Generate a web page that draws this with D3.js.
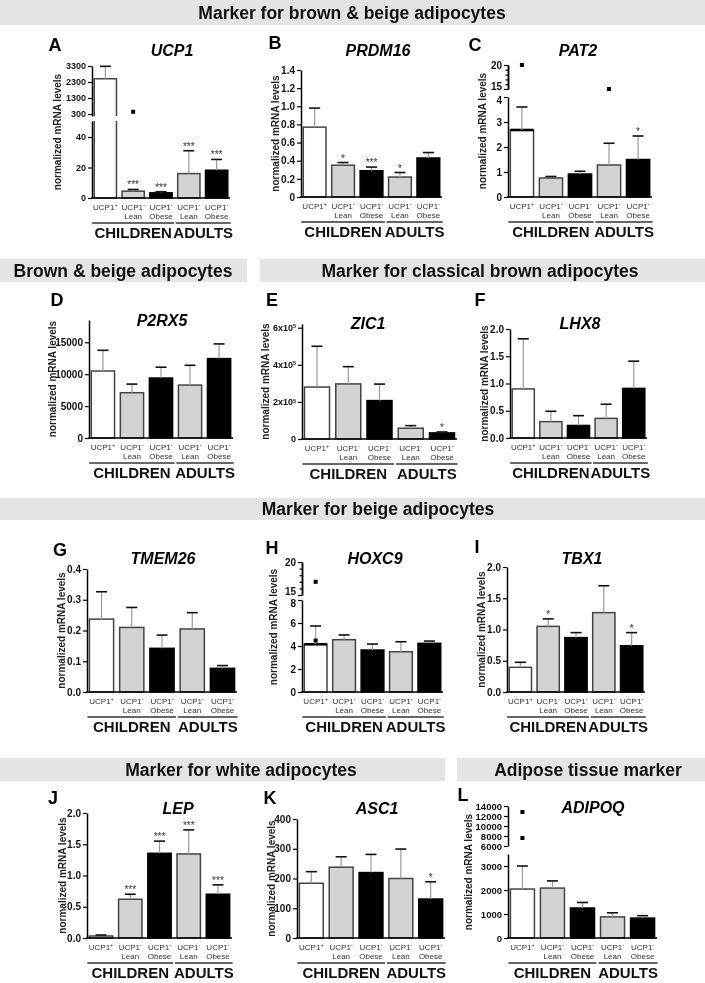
<!DOCTYPE html>
<html><head><meta charset="utf-8">
<script src="https://cdn.jsdelivr.net/npm/d3@7"></script>
<style>
body{margin:0;background:#fff}
svg{display:block;will-change:transform}
text{font-family:"Liberation Sans",Arial,Helvetica,sans-serif}
</style>
</head><body>
<svg id="c" width="705" height="983"></svg>
<script>
// ---------- DATA ----------
const groups = ["CHILDREN", "ADULTS"];
const barMain = ["UCP1", "UCP1", "UCP1", "UCP1", "UCP1"];
const barSup = ["+", "-", "-", "-", "-"];
const barSub = ["", "Lean", "Obese", "Lean", "Obese"];
const sectionTitles = ["Marker for brown & beige adipocytes", "Brown & beige adipocytes",
  "Marker for classical brown adipocytes", "Marker for beige adipocytes",
  "Marker for white adipocytes", "Adipose tissue marker"];
const panelLetters = ["A","B","C","D","E","F","G","H","I","J","K","L"];
const geneNames = ["UCP1","PRDM16","PAT2","P2RX5","ZIC1","LHX8","TMEM26","HOXC9","TBX1","LEP","ASC1","ADIPOQ"];

// means and upper end of error bars
const ucp1Mean = [2500, 4.5, 3.4, 16, 18.2];
const ucp1Top  = [3280, 5.6, 4.1, 31, 25.3];
const ucp1Sig  = ["", "***", "***", "***", "***"];
const ucp1Out  = [[1, 440]];
const ucp1Ticks = [0, 20, 40];
const ucp1TicksHi = [300, 1300, 2300, 3300];

const prdm16Mean = [0.77, 0.35, 0.29, 0.22, 0.43];
const prdm16Top  = [0.98, 0.38, 0.33, 0.27, 0.49];
const prdm16Sig  = ["", "*", "***", "*", ""];
const prdm16Ticks = [0, 0.2, 0.4, 0.6, 0.8, 1.0, 1.2, 1.4];

const pat2Mean = [2.68, 0.76, 0.92, 1.28, 1.5];
const pat2Top  = [3.6, 0.82, 1.03, 2.15, 2.44];
const pat2Sig  = ["", "", "", "", "*"];
const pat2Out  = [[0, 20], [3, 15]];
const pat2Ticks = [0, 1, 2, 3, 4];
const pat2TicksHi = [15, 20];

const p2rx5Mean = [10500, 7100, 9400, 8300, 12450];
const p2rx5Top  = [13750, 8450, 11100, 11400, 14750];
const p2rx5Sig  = ["", "", "", "", ""];
const p2rx5Ticks = [0, 5000, 10000, 15000];

const zic1Mean = [2.8e5, 2.97e5, 2.07e5, 0.58e5, 0.33e5];
const zic1Top  = [5.0e5, 3.9e5, 2.96e5, 0.72e5, 0.38e5];
const zic1Sig  = ["", "", "", "", "*"];
const zic1Ticks = [0, 2e5, 4e5, 6e5];

const lhx8Mean = [0.9, 0.3, 0.23, 0.36, 0.91];
const lhx8Top  = [1.82, 0.49, 0.41, 0.62, 1.41];
const lhx8Sig  = ["", "", "", "", ""];
const lhx8Ticks = [0, 0.5, 1.0, 1.5, 2.0];

const tmem26Mean = [0.237, 0.21, 0.142, 0.205, 0.077];
const tmem26Top  = [0.326, 0.275, 0.185, 0.258, 0.086];
const tmem26Sig  = ["", "", "", "", ""];
const tmem26Ticks = [0, 0.1, 0.2, 0.3, 0.4];

const hoxc9Mean = [4.15, 4.55, 3.65, 3.5, 4.23];
const hoxc9Top  = [5.74, 4.96, 4.17, 4.37, 4.43];
const hoxc9Sig  = ["", "", "", "", ""];
const hoxc9Out  = [[0, 17], [0, 8.1]];
const hoxc9Ticks = [0, 2, 4, 6, 8];
const hoxc9TicksHi = [15, 20];

const tbx1Mean = [0.395, 1.05, 0.87, 1.27, 0.74];
const tbx1Top  = [0.475, 1.17, 0.95, 1.70, 0.95];
const tbx1Sig  = ["", "*", "", "", "*"];
const tbx1Ticks = [0, 0.5, 1.0, 1.5, 2.0];

const lepMean = [0.032, 0.62, 1.355, 1.345, 0.70];
const lepTop  = [0.048, 0.70, 1.55, 1.73, 0.85];
const lepSig  = ["", "***", "***", "***", "***"];
const lepTicks = [0, 0.5, 1.0, 1.5, 2.0];

const asc1Mean = [184, 238, 220, 200, 131];
const asc1Top  = [223, 273, 281, 299, 189];
const asc1Sig  = ["", "", "", "", "*"];
const asc1Ticks = [0, 100, 200, 300, 400];

const adipoqMean = [2040, 2080, 1250, 880, 830];
const adipoqTop  = [3000, 2380, 1480, 1050, 930];
const adipoqSig  = ["", "", "", "", ""];
const adipoqOut  = [[0, 12800], [0, 7600]];
const adipoqTicks = [0, 1000, 2000, 3000];
const adipoqTicksHi = [6000, 8000, 10000, 12000, 14000];

// ---------- PANEL DEFINITIONS (data + format) ----------
const f1 = d3.format(".1f");
const fInt = d => d3.format("d")(d);
const fB = d => d === 0 ? "0" : f1(d);
const panels = [
  {mean: ucp1Mean, top: ucp1Top, sig: ucp1Sig, out: ucp1Out, ticks: ucp1Ticks, ticksHi: ucp1TicksHi, fmt: fInt},
  {mean: prdm16Mean, top: prdm16Top, sig: prdm16Sig, out: [], ticks: prdm16Ticks, fmt: fB},
  {mean: pat2Mean, top: pat2Top, sig: pat2Sig, out: pat2Out, ticks: pat2Ticks, ticksHi: pat2TicksHi, fmt: fInt},
  {mean: p2rx5Mean, top: p2rx5Top, sig: p2rx5Sig, out: [], ticks: p2rx5Ticks, fmt: fInt},
  {mean: zic1Mean, top: zic1Top, sig: zic1Sig, out: [], ticks: zic1Ticks, fmt: "sci"},
  {mean: lhx8Mean, top: lhx8Top, sig: lhx8Sig, out: [], ticks: lhx8Ticks, fmt: f1},
  {mean: tmem26Mean, top: tmem26Top, sig: tmem26Sig, out: [], ticks: tmem26Ticks, fmt: f1},
  {mean: hoxc9Mean, top: hoxc9Top, sig: hoxc9Sig, out: hoxc9Out, ticks: hoxc9Ticks, ticksHi: hoxc9TicksHi, fmt: fInt},
  {mean: tbx1Mean, top: tbx1Top, sig: tbx1Sig, out: [], ticks: tbx1Ticks, fmt: f1},
  {mean: lepMean, top: lepTop, sig: lepSig, out: [], ticks: lepTicks, fmt: f1},
  {mean: asc1Mean, top: asc1Top, sig: asc1Sig, out: [], ticks: asc1Ticks, fmt: fInt},
  {mean: adipoqMean, top: adipoqTop, sig: adipoqSig, out: adipoqOut, ticks: adipoqTicks, ticksHi: adipoqTicksHi, fmt: fInt}
];

// ---------- LAYOUT ----------
const bands = [
  {x0: 0, x1: 705, y0: 0, y1: 25, tx: 352},
  {x0: 0, x1: 247, y0: 259, y1: 282, tx: 123},
  {x0: 260, x1: 705, y0: 259, y1: 282, tx: 480},
  {x0: 0, x1: 705, y0: 498, y1: 520, tx: 378},
  {x0: 0, x1: 445, y0: 758, y1: 781, tx: 241},
  {x0: 457, x1: 705, y0: 758, y1: 781, tx: 588}
];
const layout = [
  {lx:55, ly:45, tx:172, ty:50, ylx:57, ax:92, xe:230, low:[0,50.5,198,121], high:[175,3300,116,66], tf:9},
  {lx:275, ly:43, tx:378, ty:50, ylx:275, ax:301, xe:442, low:[0,1.4,197,70]},
  {lx:475, ly:45, tx:578, ty:50, ylx:482, ax:508, xe:652, low:[0,4,197,97], high:[15,20,89,65], minor:true, thick:0, split:3},
  {lx:57, ly:300, tx:162, ty:320, ylx:52, ax:89, xe:233, low:[0,18500,438,320]},
  {lx:272, ly:300, tx:368, ty:323, ylx:265, ax:302, xe:457, low:[0,6.2e5,439,324], tf:9},
  {lx:480, ly:300, tx:580, ty:323, ylx:484, ax:510, xe:647, low:[0,2,438,329]},
  {lx:60, ly:550, tx:163, ty:558, ylx:61, ax:87, xe:237, low:[0,0.4,692,569]},
  {lx:272, ly:548, tx:375, ty:558, ylx:273, ax:302, xe:443, low:[0,8,692,600], high:[15,20,595,562], minor:true, thick:0, split:3.5},
  {lx:477, ly:547, tx:582, ty:558, ylx:481, ax:507, xe:645, low:[0,2,692,567]},
  {lx:53, ly:798, tx:178, ty:808, ylx:62, ax:87, xe:232, low:[0,2,938,813]},
  {lx:270, ly:798, tx:377, ty:808, ylx:271, ax:297, xe:445, low:[0,400,938,819]},
  {lx:463, ly:795, tx:593, ty:807, ylx:468, ax:508, xe:657, low:[0,3500,938,854], high:[6000,14000,846,806], tf:9.5}
];
const fills = ["#ffffff", "#d3d3d3", "#000000", "#d3d3d3", "#000000"];
const strokes = ["#444", "#444", "#000", "#444", "#000"];

// ---------- DRAW ----------
const svg = d3.select("#c");
svg.append("rect").attr("width", 705).attr("height", 983).attr("fill", "#fff");

bands.forEach((b, i) => {
  svg.append("rect").attr("x", b.x0).attr("y", b.y0).attr("width", b.x1 - b.x0)
    .attr("height", b.y1 - b.y0).attr("fill", "#e4e4e4");
  svg.append("text").attr("x", b.tx).attr("y", (b.y0 + b.y1) / 2)
    .attr("text-anchor", "middle").attr("dominant-baseline", "central")
    .attr("font-size", 17.5).attr("font-weight", "bold").attr("fill", "#111")
    .text(sectionTitles[i]);
});

function styleAxis(sel, fs) {
  sel.select(".domain").attr("stroke", "#000").attr("stroke-width", 1.5);
  sel.selectAll(".tick line").attr("stroke", "#000").attr("stroke-width", 1.2);
  sel.selectAll(".tick text").attr("font-size", fs).attr("font-weight", "bold")
    .attr("font-family", '"Liberation Sans",Arial,sans-serif').attr("fill", "#111");
  sel.attr("font-family", null).attr("font-size", null);
}

function sciLabel(sel) {
  sel.each(function(d) {
    const t = d3.select(this);
    if (d === 0) { t.text("0"); return; }
    const m = d / 1e5;
    t.text(null);
    t.append("tspan").text(m + "x10");
    t.append("tspan").attr("font-size", 5.5).attr("dy", "-0.5em").text("5");
  });
}

panels.forEach((p, k) => {
  const L = layout[k];
  const g = svg.append("g");
  const fs = L.tf || 10;
  const x = d3.scaleBand().domain(d3.range(5)).range([L.ax, L.xe])
    .paddingInner(0.2).paddingOuter(0.08);
  const bw = x.bandwidth();
  const low = d3.scaleLinear().domain([L.low[0], L.low[1]]).range([L.low[2], L.low[3]]);
  const high = L.high ? d3.scaleLinear().domain([L.high[0], L.high[1]]).range([L.high[2], L.high[3]]) : null;
  const lowMax = L.low[1];
  const y = v => (high && v > lowMax) ? high(v) : low(v);
  const y0 = L.low[2];
  const yTopAll = high ? L.high[3] : L.low[3];

  // letter + title
  g.append("text").attr("x", L.lx).attr("y", L.ly).attr("text-anchor", "middle")
    .attr("dominant-baseline", "central").attr("font-size", 18).attr("font-weight", "bold")
    .text(panelLetters[k]);
  g.append("text").attr("x", L.tx).attr("y", L.ty).attr("text-anchor", "middle")
    .attr("dominant-baseline", "central").attr("font-size", 16).attr("font-weight", "bold")
    .attr("font-style", "italic").text(geneNames[k]);

  // y label
  g.append("text").attr("transform", `translate(${L.ylx},${(y0 + yTopAll) / 2}) rotate(-90)`)
    .attr("text-anchor", "middle").attr("dominant-baseline", "central")
    .attr("font-size", 10).attr("font-weight", "bold").attr("fill", "#222")
    .text("normalized mRNA levels");

  // bars
  p.mean.forEach((m, i) => {
    const bx = x(i);
    if (high && m > lowMax) {
      const lt = L.low[3], hb = L.high[2];
      g.append("rect").attr("x", bx).attr("y", lt).attr("width", bw).attr("height", y0 - lt).attr("fill", fills[i]);
      g.append("rect").attr("x", bx).attr("y", high(m)).attr("width", bw).attr("height", hb - high(m)).attr("fill", fills[i]);
      g.append("path").attr("d", `M${bx},${lt}V${y0}H${bx + bw}V${lt}M${bx},${hb}V${high(m)}H${bx + bw}V${hb}`)
        .attr("fill", "none").attr("stroke", strokes[i]).attr("stroke-width", 1.5);
    } else {
      g.append("rect").attr("x", bx).attr("y", y(m)).attr("width", bw).attr("height", y0 - y(m))
        .attr("fill", fills[i]).attr("stroke", strokes[i]).attr("stroke-width", 1.5);
    }
    if (L.thick === i) {
      g.append("line").attr("x1", bx).attr("x2", bx + bw).attr("y1", y(m)).attr("y2", y(m))
        .attr("stroke", "#000").attr("stroke-width", 2.6);
    }
    // error bar
    const cx = bx + bw / 2, tv = p.top[i];
    if (high && tv > lowMax && m <= lowMax) {
      g.append("line").attr("x1", cx).attr("x2", cx).attr("y1", y(m)).attr("y2", L.low[3]).attr("stroke", "#9a9a9a").attr("stroke-width", 1.2);
      g.append("line").attr("x1", cx).attr("x2", cx).attr("y1", L.high[2]).attr("y2", high(tv)).attr("stroke", "#9a9a9a").attr("stroke-width", 1.2);
    } else {
      g.append("line").attr("x1", cx).attr("x2", cx).attr("y1", y(m)).attr("y2", y(tv))
        .attr("stroke", "#9a9a9a").attr("stroke-width", 1.2);
    }
    g.append("line").attr("x1", cx - 5.5).attr("x2", cx + 5.5).attr("y1", y(tv)).attr("y2", y(tv))
      .attr("stroke", "#111").attr("stroke-width", 1.6);
    if (p.sig[i]) {
      g.append("text").attr("x", cx).attr("y", y(tv) - 1).attr("text-anchor", "middle")
        .attr("font-size", 10).attr("fill", "#333").text(p.sig[i]);
    }
  });

  // outliers
  p.out.forEach(o => {
    const cx = x(o[0]) + bw / 2;
    g.append("rect").attr("x", cx - 2).attr("y", y(o[1]) - 2).attr("width", 4).attr("height", 4).attr("fill", "#000");
  });

  // y axes
  const axLow = d3.axisLeft(low).tickValues(p.ticks).tickSize(4).tickSizeOuter(0).tickPadding(2);
  if (p.fmt !== "sci") axLow.tickFormat(p.fmt);
  const gl = g.append("g").attr("transform", `translate(${L.ax},0)`).call(axLow);
  styleAxis(gl, fs);
  if (p.fmt === "sci") gl.selectAll(".tick text").call(sciLabel);
  if (high) {
    if (L.minor) {
      const minorVals = d3.range(L.high[0], L.high[1] + 1).filter(v => !p.ticksHi.includes(v));
      const axMin = d3.axisLeft(high).tickValues(minorVals).tickSize(2.5).tickSizeOuter(0).tickFormat("");
      const gm = g.append("g").attr("transform", `translate(${L.ax},0)`).call(axMin);
      styleAxis(gm, fs);
    }
    const axHi = d3.axisLeft(high).tickValues(p.ticksHi).tickSize(4).tickSizeOuter(0).tickPadding(2).tickFormat(p.fmt);
    const gh = g.append("g").attr("transform", `translate(${L.ax},0)`).call(axHi);
    styleAxis(gh, fs);
    if (L.split) {
      // separate the two labels that meet at the axis break
      gh.selectAll(".tick text").filter(d => d === p.ticksHi[0]).attr("y", -L.split);
      gl.selectAll(".tick text").filter(d => d === p.ticks[p.ticks.length - 1]).attr("y", L.split);
    }
  }

  // x axis
  g.append("line").attr("x1", L.ax - 0.75).attr("x2", L.xe).attr("y1", y0).attr("y2", y0)
    .attr("stroke", "#000").attr("stroke-width", 1.5);

  // bar labels
  d3.range(5).forEach(i => {
    const cx = x(i) + bw / 2;
    const t = g.append("text").attr("x", cx).attr("y", y0 + 11.5).attr("text-anchor", "middle")
      .attr("font-size", 8).attr("fill", "#333");
    t.append("tspan").text(barMain[i]);
    t.append("tspan").attr("font-size", 5.5).attr("dy", -3).text(barSup[i]);
    if (barSub[i]) {
      g.append("text").attr("x", cx).attr("y", y0 + 21).attr("text-anchor", "middle")
        .attr("font-size", 8).attr("fill", "#333").text(barSub[i]);
    }
  });

  // group lines
  const gx = [[x(0) - 2, x(2) + bw + 2], [x(3) - 2, x(4) + bw + 3]];
  gx.forEach((r, j) => {
    g.append("line").attr("x1", r[0]).attr("x2", r[1]).attr("y1", y0 + 25).attr("y2", y0 + 25)
      .attr("stroke", "#333").attr("stroke-width", 1.5);
    g.append("text").attr("x", (r[0] + r[1]) / 2).attr("y", y0 + 40).attr("text-anchor", "middle")
      .attr("font-size", 15).attr("font-weight", "bold").attr("fill", "#111").text(groups[j]);
  });
});
</script>
</body></html>
